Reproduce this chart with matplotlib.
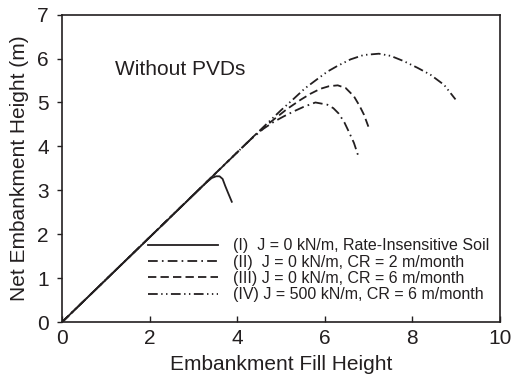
import matplotlib
matplotlib.use("Agg")
import matplotlib.pyplot as plt

plt.rcParams['font.family'] = ['Liberation Sans', 'DejaVu Sans']
plt.rcParams['lines.scale_dashes'] = False

# (I) rate-insensitive soil
fill_1 = [0.0, 3.30, 3.42, 3.52, 3.60, 3.67, 3.73, 3.80, 3.88]
net_1 = [0.0, 3.18, 3.28, 3.32, 3.32, 3.26, 3.10, 2.93, 2.74]

# (II) J = 0, CR = 2 m/month
fill_2 = [0.0, 4.30, 4.60, 4.84, 5.06, 5.30, 5.52, 5.79, 6.06, 6.20, 6.32, 6.45, 6.56, 6.67, 6.78]
net_2 = [0.0, 4.15, 4.40, 4.56, 4.68, 4.80, 4.90, 5.00, 4.95, 4.87, 4.75, 4.55, 4.32, 4.08, 3.75]

# (III) J = 0, CR = 6 m/month
fill_3 = [0.0, 4.40, 4.76, 5.14, 5.45, 5.68, 5.90, 6.10, 6.30, 6.48, 6.67, 6.80, 6.90, 7.00]
net_3 = [0.0, 4.25, 4.55, 4.85, 5.06, 5.20, 5.31, 5.37, 5.39, 5.33, 5.14, 4.92, 4.72, 4.45]

# (IV) J = 500 kN/m, CR = 6 m/month
fill_4 = [0.0, 4.60, 5.00, 5.29, 5.55, 5.75, 6.06, 6.29, 6.59, 6.89, 7.24, 7.51, 7.81, 8.12,
          8.42, 8.73, 8.99]
net_4 = [0.0, 4.44, 4.82, 5.08, 5.32, 5.47, 5.70, 5.83, 5.98, 6.08, 6.11, 6.06, 5.94, 5.79,
         5.63, 5.40, 5.07]

labels = [
    "(I)  J = 0 kN/m, Rate-Insensitive Soil",
    "(II)  J = 0 kN/m, CR = 2 m/month",
    "(III) J = 0 kN/m, CR = 6 m/month",
    "(IV) J = 500 kN/m, CR = 6 m/month",
]

ink = "#231f20"

fig = plt.figure(figsize=(5.12, 3.84), dpi=100)
ax = fig.add_axes([0.121, 0.161, 0.855, 0.801])

ax.plot(fill_1, net_1, color=ink, lw=1.3, linestyle="-", label=labels[0])
ax.plot(fill_2, net_2, color=ink, lw=1.3, dashes=(7, 3, 1.2, 3), label=labels[1])
ax.plot(fill_3, net_3, color=ink, lw=1.3, dashes=(6, 3), label=labels[2])
ax.plot(fill_4, net_4, color=ink, lw=1.3, dashes=(7, 2.5, 1, 2.5, 1, 2.5), label=labels[3])

ax.set_xlim(0, 10)
ax.set_ylim(0, 7)
ax.set_xticks([0, 2, 4, 6, 8, 10])
ax.set_yticks(range(0, 8))

ax.tick_params(axis="x", direction="in", length=4, width=1, labelsize=15, colors=ink, pad=5)
ax.tick_params(axis="y", direction="out", length=3.5, width=1, labelsize=15, colors=ink, pad=6)
for sp in ax.spines.values():
    sp.set_color(ink)
    sp.set_linewidth(1.2)

ax.set_xlabel("Embankment Fill Height", fontsize=15, color=ink, labelpad=5)
ax.set_ylabel("Net Embankment Height (m)", fontsize=15, color=ink, labelpad=6)

ax.text(1.21, 5.74, "Without PVDs", fontsize=15, color=ink, va="center", ha="left")

leg = ax.legend(loc="lower left", bbox_to_anchor=(0.197, 0.065), frameon=False,
                fontsize=11.5, handlelength=4.4, handletextpad=0.9,
                labelspacing=0.08, borderpad=0, borderaxespad=0)
for t in leg.get_texts():
    t.set_color(ink)

fig.savefig("out.png", dpi=100)
